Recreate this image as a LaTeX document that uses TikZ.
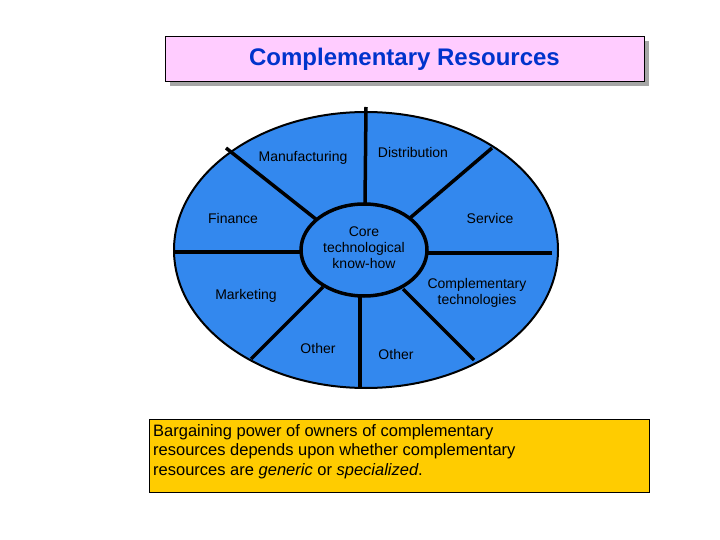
\documentclass[tikz,border=0pt]{standalone}
\usepackage{fontspec}
\setmainfont{Liberation Sans}
\begin{document}
\begin{tikzpicture}[x=1pt,y=-1pt,
  lbl/.style={font=\fontsize{14}{16}\selectfont, align=center, inner sep=0pt},
  spoke/.style={line width=3.5pt, black}]
\useasboundingbox (0,0) rectangle (720,540);
\fill[white] (0,0) rectangle (720,540);
% title
\fill[gray!70] (170,41) rectangle (649,86);
\node[draw=black, fill={rgb,255:red,255;green,204;blue,255}, minimum width=479pt, minimum height=45pt, inner sep=0pt, anchor=north west] (title) at (165,36) {};
\node[font=\fontsize{24}{28}\selectfont\bfseries, text={rgb,255:red,0;green,51;blue,204}] (tt) at (404.5,59) {Complementary Resources};
% ellipse
\draw[line width=2pt, fill={rgb,255:red,51;green,136;blue,238}] (366,250) ellipse (192 and 138);
\coordinate (t1) at (365,204); \coordinate (t2) at (366,107);
\coordinate (ul1) at (317,220); \coordinate (ul2) at (226,148);
\coordinate (l1) at (300,252); \coordinate (l2) at (175,252);
\coordinate (ll1) at (323,287); \coordinate (ll2) at (251,359);
\coordinate (b1) at (360,297); \coordinate (b2) at (360,388);
\coordinate (lr1) at (403,289); \coordinate (lr2) at (474,360);
\coordinate (r1) at (427,253); \coordinate (r2) at (552,253);
\coordinate (ur1) at (410,218); \coordinate (ur2) at (492,148);
\foreach \a/\b in {t1/t2,ul1/ul2,l1/l2,ll1/ll2,b1/b2,lr1/lr2,r1/r2,ur1/ur2} \draw[spoke] (\a) -- (\b);
\draw[line width=3.5pt, fill={rgb,255:red,51;green,136;blue,238}] (364,250) ellipse (63 and 46);
\node[lbl] (core) at (364,248) {Core\\technological\\know-how};
\node[lbl] (man) at (303,158) {Manufacturing};
\node[lbl] (dis) at (413,152) {Distribution};
\node[lbl] (fin) at (233,218) {Finance};
\node[lbl] (ser) at (490,218) {Service};
\node[lbl] (ct) at (477,293) {Complementary\\technologies};
\node[lbl] (mar) at (246,296) {Marketing};
\node[lbl] (o1) at (318,348) {Other};
\node[lbl] (o2) at (396,354) {Other};
% bottom box
\node[draw=black, fill={rgb,255:red,255;green,204;blue,0}, minimum width=500pt, minimum height=73pt, inner sep=0pt, anchor=north west] (box) at (149,419) {};
\node[font=\fontsize{16.5}{19.5}\selectfont, align=left, anchor=north west, inner sep=0pt] (bt) at (153,424) {Bargaining power of owners of complementary\\resources depends upon whether complementary\\resources are \textit{generic} or \textit{specialized}.};
\end{tikzpicture}
\end{document}
